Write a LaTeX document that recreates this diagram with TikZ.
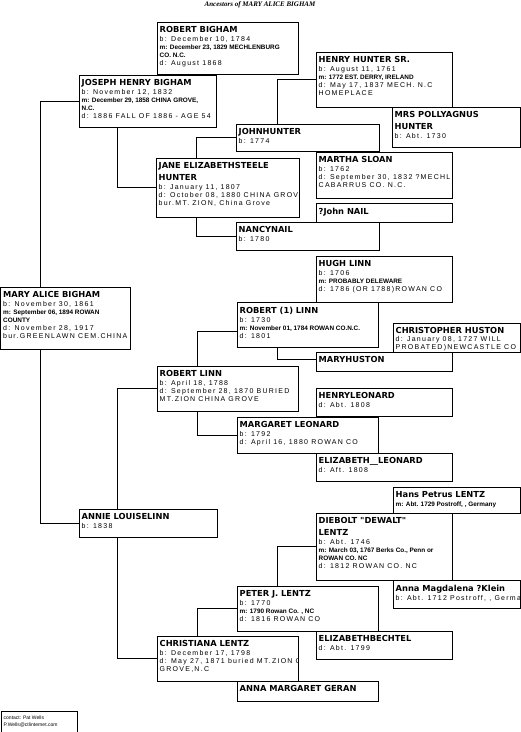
\documentclass[tikz,border=0pt]{standalone}
\usepackage{fontspec}
\setmainfont{Liberation Sans}
\newfontfamily\namefont{DejaVu Sans}
\newfontfamily\wedfont{Liberation Sans}
\newfontfamily\detfont{Liberation Sans}[LetterSpace=18]
\newfontfamily\titlefont{Liberation Serif}
\newcommand{\who}[1]{{\namefont\bfseries\fontsize{8.3}{9}\selectfont #1}}
\newcommand{\wed}[1]{{\wedfont\bfseries\fontsize{6.4}{8}\selectfont #1}}
\newcommand{\famcard}[6]{%
  \node[card, minimum width=#4pt, minimum height=#5pt] (#1) at (#2,#3) {};
  \begin{scope}
    \clip (#1.north west) rectangle (#1.south east);
    \node[cardtext] (#1-txt) at (#1.north west) {#6};
  \end{scope}}

\begin{document}
\begin{tikzpicture}[x=1pt,y=-1pt,
    card/.style={draw,rectangle,fill=white,line width=1pt,anchor=north west,inner sep=0pt,outer sep=0pt},
    cardtext/.style={anchor=north west,align=left,inner xsep=2.5pt,inner ysep=4.5pt,font=\detfont\fontsize{7}{8}\selectfont},
    link/.style={line width=1pt,to path={|- (\tikztotarget)}}]
        \useasboundingbox (0,0) rectangle (521,732);
        \node[font=\titlefont\bfseries\itshape\fontsize{7}{8}\selectfont] (title) at (260,5) {Ancestors of MARY ALICE BIGHAM};
        \famcard{rbigham}{157}{22}{141}{52}{\who{ROBERT BIGHAM}\\[1pt] b: December 10, 1784\\ \wed{m: December 23, 1829 MECHLENBURG}\\ \wed{CO. N.C.}\\ d: August 1868}
        \famcard{jbigham}{79}{75}{137}{52}{\who{JOSEPH HENRY BIGHAM}\\[1pt] b: November 12, 1832\\ \wed{m: December 29, 1858 CHINA GROVE,}\\ \wed{N.C.}\\ d: 1886 FALL OF 1886 - AGE 54}
        \famcard{hhunter}{316}{52}{136}{55}{\who{HENRY HUNTER SR.}\\[1pt] b: August 11, 1761\\ \wed{m: 1772 EST. DERRY, IRELAND}\\ d: May 17, 1837 MECH. N.C\\ HOMEPLACE}
        \famcard{polly}{392}{107}{128.5}{40}{\who{MRS POLLYAGNUS}\\[4pt] \who{HUNTER}\\[1pt] b: Abt. 1730}
        \famcard{jhunter}{236}{124}{143}{27}{\who{JOHNHUNTER}\\[1pt] b: 1774}
        \famcard{jane}{156}{158}{143}{59}{\who{JANE ELIZABETHSTEELE}\\[4pt] \who{HUNTER}\\[1pt] b: January 11, 1807\\ d: October 08, 1880 CHINA GROVE\\ bur.MT. ZION, China Grove}
        \famcard{msloan}{316}{152}{136}{46}{\who{MARTHA SLOAN}\\[1pt] b: 1762\\ d: September 30, 1832 ?MECHLENBURG\\ CABARRUS CO. N.C.}
        \famcard{jnail}{316}{203}{136}{19.5}{\who{?John NAIL}}
        \famcard{nnail}{236}{222}{143}{28}{\who{NANCYNAIL}\\[1pt] b: 1780}
        \famcard{hlinn}{316}{256}{136}{46}{\who{HUGH LINN}\\[1pt] b: 1706\\ \wed{m: PROBABLY DELEWARE}\\ d: 1786 (OR 1788)ROWAN CO}
        \famcard{malice}{0.5}{287}{130}{62}{\who{MARY ALICE BIGHAM}\\[1pt] b: November 30, 1861\\ \wed{m: September 06, 1894 ROWAN}\\ \wed{COUNTY}\\ d: November 28, 1917\\ bur.GREENLAWN CEM.CHINA GROVE}
        \famcard{robone}{237}{302}{141}{45}{\who{ROBERT (1) LINN}\\[1pt] b: 1730\\ \wed{m: November 01, 1784 ROWAN CO.N.C.}\\ d: 1801}
        \famcard{chuston}{393}{323}{127.5}{29}{\who{CHRISTOPHER HUSTON}\\ d: January 08, 1727 WILL\\ PROBATED)NEWCASTLE CO}
        \famcard{mhuston}{316}{352}{136}{19}{\who{MARYHUSTON}}
        \famcard{rlinn}{157}{366}{141}{45}{\who{ROBERT LINN}\\[1pt] b: April 18, 1788\\ d: September 28, 1870 BURIED\\ MT.ZION CHINA GROVE}
        \famcard{hleonard}{316}{388}{136}{28}{\who{HENRYLEONARD}\\[1pt] d: Abt. 1808}
        \famcard{mleonard}{237}{417}{141}{36}{\who{MARGARET LEONARD}\\[1pt] b: 1792\\ d: April 16, 1880 ROWAN CO}
        \famcard{eleonard}{316}{453}{136}{28}{\who{ELIZABETH\_\_LEONARD}\\[1pt] d: Aft. 1808}
        \famcard{annie}{79}{509}{138}{28}{\who{ANNIE LOUISELINN}\\[1pt] b: 1838}
        \famcard{hplentz}{393}{487}{127.5}{26}{\who{Hans Petrus LENTZ}\\[1pt] \wed{m: Abt. 1729 Postroff, , Germany}}
        \famcard{dlentz}{316}{513}{136}{67}{\who{DIEBOLT "DEWALT"}\\[4pt] \who{LENTZ}\\[1pt] b: Abt. 1746\\ \wed{m: March 03, 1767 Berks Co., Penn or}\\ \wed{ROWAN CO. NC}\\ d: 1812 ROWAN CO. NC}
        \famcard{amklein}{393}{580}{127.5}{28}{\who{Anna Magdalena ?Klein}\\[1pt] b: Abt. 1712 Postroff, , Germany}
        \famcard{plentz}{237}{586}{141}{45}{\who{PETER J. LENTZ}\\[1pt] b: 1770\\ \wed{m: 1790 Rowan Co. , NC}\\ d: 1816 ROWAN CO}
        \famcard{ebechtel}{316}{631}{136}{28}{\who{ELIZABETHBECHTEL}\\[1pt] d: Abt. 1799}
        \famcard{clentz}{157}{636}{141}{45}{\who{CHRISTIANA LENTZ}\\[1pt] b: December 17, 1798\\ d: May 27, 1871 buried MT.ZION CHINA\\ GROVE,N.C}
        \famcard{amgeran}{237}{681}{141}{20}{\who{ANNA MARGARET GERAN}}
        \famcard{contact}{1}{711}{76}{25}{{\wedfont\fontsize{5}{6}\selectfont contact: Pat Wells}\\[-1pt] {\wedfont\fontsize{5}{6}\selectfont P.Wells@ctlinternet.com}}
        \path
            ([xshift=39.5pt]malice.north west)
                edge[link] (jbigham.west)
            ([xshift=39.5pt]malice.south west)
                edge[link] (annie.west)
            ([xshift=38pt]jbigham.south west)
                edge[link] (jane.west)
            ([xshift=40pt]jane.north west)
                edge[link] (jhunter.west)
            ([xshift=40pt]jane.south west)
                edge[link] (nnail.west)
            ([xshift=41pt]jhunter.north west)
                edge[link] (hhunter.west)
            ([xshift=38pt]annie.north west)
                edge[link] (rlinn.west)
            ([xshift=38pt]annie.south west)
                edge[link] (clentz.west)
            ([xshift=40pt]rlinn.north west)
                edge[link] ([yshift=-7pt]robone.west)
            ([xshift=40pt]rlinn.south west)
                edge[link] (mleonard.west)
            ([xshift=40pt]robone.south west)
                edge[link] ([yshift=2pt]mhuston.west)
            ([xshift=40pt]clentz.north west)
                edge[link] (plentz.west)
            ([xshift=40pt]plentz.north west)
                edge[link] (dlentz.west);
    \end{tikzpicture}
\end{document}
